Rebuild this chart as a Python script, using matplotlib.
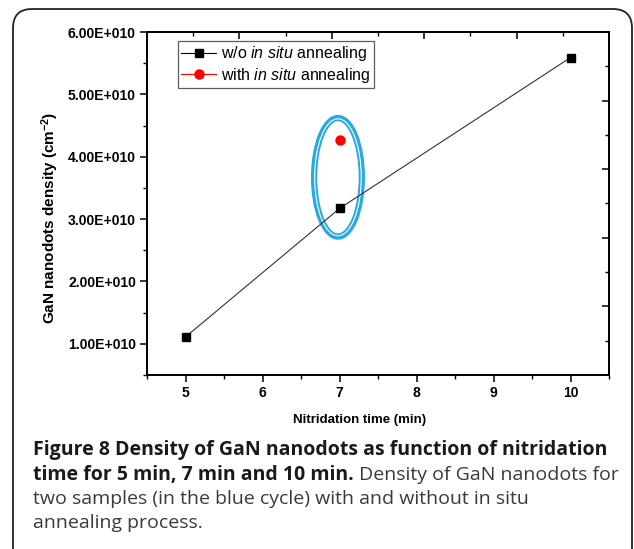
import matplotlib
matplotlib.use("Agg")
import matplotlib.pyplot as plt
from matplotlib.patches import Ellipse, FancyBboxPatch
from matplotlib.lines import Line2D
from matplotlib.ticker import FixedLocator, MultipleLocator

plt.rcParams['font.family'] = ['Liberation Sans', 'DejaVu Sans']
plt.rcParams['mathtext.fontset'] = 'custom'
plt.rcParams['mathtext.rm'] = 'Liberation Sans'
plt.rcParams['mathtext.it'] = 'Liberation Sans:italic'
plt.rcParams['mathtext.bf'] = 'Liberation Sans:bold'

# ---- data ----
time_wo = [5, 7, 10]
density_wo = [1.11e10, 3.17e10, 5.59e10]
time_with = [7]
density_with = [4.27e10]
x_ticks = [5, 6, 7, 8, 9, 10]
y_ticks = [1e10, 2e10, 3e10, 4e10, 5e10, 6e10]
y_tick_labels = ["1.00E+010", "2.00E+010", "3.00E+010", "4.00E+010", "5.00E+010", "6.00E+010"]
label_wo = "w/o $\\it{in\\ situ}$ annealing"
label_with = "with $\\it{in\\ situ}$ annealing"
xlabel = "Nitridation time (min)"
ylabel = "GaN nanodots density (cm$^{\\mathbf{-2}}$)"
caption_bold1 = "Figure 8 Density of GaN nanodots as function of nitridation"
caption_bold2 = "time for 5 min, 7 min and 10 min."
caption_reg2 = " Density of GaN nanodots for"
caption_reg3 = "two samples (in the blue cycle) with and without in situ"
caption_reg4 = "annealing process."

W, H = 634, 549
fig = plt.figure(figsize=(W / 100, H / 100), dpi=100)

# rounded frame
frame = FancyBboxPatch((13 / W, -0.05), (632 - 13) / W, (H - 9) / H + 0.05,
                       boxstyle="round,pad=0,rounding_size=0.03",
                       transform=fig.transFigure, fill=False, ec='#222222', lw=1.3,
                       mutation_aspect=W / H)
fig.patches.append(frame)

ax_l, ax_r, ax_t, ax_b = 147, 609, 32, 375
ax = fig.add_axes([ax_l / W, 1 - ax_b / H, (ax_r - ax_l) / W, (ax_b - ax_t) / H])

ax.plot(time_wo, density_wo, color='#333333', lw=0.8, marker='s', ms=6,
        mfc='black', mec='black', zorder=3)
ax.plot(time_with, density_with, ls='none', marker='o', ms=6.5,
        mfc='red', mec='red', zorder=3)

# blue double ellipse
ell1 = Ellipse((6.98, 3.67e10), 0.62, 1.9e10, fill=False, ec='#29A9E1', lw=4.5, zorder=2)
ell2 = Ellipse((6.98, 3.67e10), 0.605, 1.875e10, fill=False, ec='white', lw=0.8, zorder=2.5)
ax.add_patch(ell1)
ax.add_patch(ell2)

ax.set_xlim(4.5, 10.5)
ax.set_ylim(0.5e10, 6e10)
ax.set_xticks(x_ticks)
ax.xaxis.set_minor_locator(MultipleLocator(0.5))
ax.set_yticks(y_ticks)
ax.set_yticklabels(y_tick_labels)
ax.yaxis.set_minor_locator(MultipleLocator(0.5e10))
for lab in ax.get_xticklabels() + ax.get_yticklabels():
    lab.set_fontweight('bold')
ax.tick_params(axis='both', which='major', direction='out', length=5, width=1.1,
               labelsize=10, top=False, right=False, pad=3)
ax.tick_params(axis='both', which='minor', direction='out', length=3, width=1.0,
               top=False, right=False)
for s in ax.spines.values():
    s.set_linewidth(1.4)

# top / right axes with their own ticks
axt = ax.twiny()
axt.set_xlim(0, 10)
axt.xaxis.set_major_locator(FixedLocator([2, 4, 6, 8]))
axt.xaxis.set_minor_locator(FixedLocator([1, 3, 5, 7, 9]))
axt.tick_params(axis='x', which='major', direction='in', length=5, width=1.1, labeltop=False)
axt.tick_params(axis='x', which='minor', direction='in', length=3, width=1.0)
axr = ax.twinx()
axr.set_ylim(0, 10)
axr.yaxis.set_major_locator(FixedLocator([2, 4, 6, 8]))
axr.yaxis.set_minor_locator(FixedLocator([1, 3, 5, 7, 9]))
axr.tick_params(axis='y', which='major', direction='in', length=5, width=1.1, labelright=False)
axr.tick_params(axis='y', which='minor', direction='in', length=3, width=1.0)
for a in (axt, axr):
    for s in a.spines.values():
        s.set_linewidth(1.4)

fig.text(360 / W, 1 - 420 / H, xlabel, fontsize=9.5, fontweight='bold', ha='center', va='center')
fig.text(50 / W, 1 - 218 / H, ylabel, fontsize=11, fontweight='bold', rotation=90,
         ha='center', va='center')

handles = [Line2D([], [], color='black', lw=0.8, marker='s', ms=6, mfc='black', mec='black'),
           Line2D([], [], color='red', lw=0.8, marker='o', ms=6.5, mfc='red', mec='red')]
leg = axr.legend(handles, [label_wo, label_with], loc='upper left',
                 bbox_to_anchor=((178 - ax_l) / (ax_r - ax_l), (ax_b - 41) / (ax_b - ax_t)),
                 frameon=True, fancybox=False, edgecolor='#333333', fontsize=11.5,
                 handlelength=2.2, handletextpad=0.3, borderpad=0.2, labelspacing=0.15,
                 borderaxespad=0, handleheight=0.6)
leg.get_frame().set_linewidth(0.9)

# caption
fs_cap = 14.0
bold_col = '#1a1a1a'
reg_col = '#3a3a3a'
fam = ['Open Sans', 'DejaVu Sans']
x0 = 33 / W
fig.text(x0, 1 - 455 / H, caption_bold1, fontweight='bold', va='baseline',
         family=fam, fontsize=fs_cap, color=bold_col)
t2 = fig.text(x0, 1 - 480 / H, caption_bold2, fontweight='bold', va='baseline',
              family=fam, fontsize=fs_cap, color=bold_col)
fig.canvas.draw()
bb = t2.get_window_extent()
fig.text(bb.x1 / W, 1 - 480 / H, caption_reg2, va='baseline',
         family=fam, fontsize=fs_cap, color=reg_col)
fig.text(x0, 1 - 504 / H, caption_reg3, va='baseline',
         family=fam, fontsize=fs_cap, color=reg_col)
fig.text(x0, 1 - 528 / H, caption_reg4, va='baseline',
         family=fam, fontsize=fs_cap, color=reg_col)

fig.savefig("out.png", dpi=100)
